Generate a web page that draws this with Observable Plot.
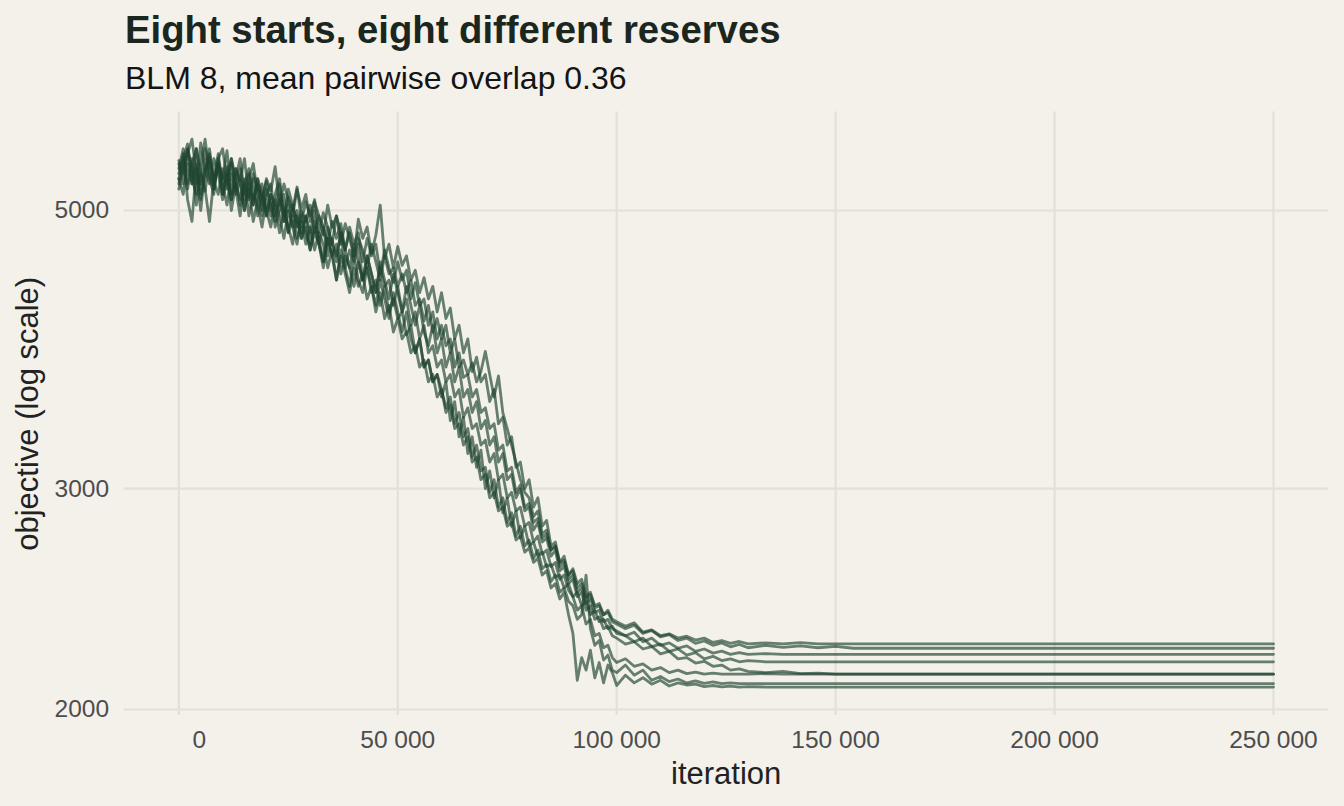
<!DOCTYPE html>
<html><head><meta charset="utf-8">
<script src="https://cdn.jsdelivr.net/npm/d3@7"></script>
<script src="https://cdn.jsdelivr.net/npm/@observablehq/plot@0.6"></script>
<style>
html,body{margin:0;padding:0;background:#f3f1ea;}
body{width:1344px;height:806px;overflow:hidden;position:relative;font-family:"Liberation Sans",Arial,Helvetica,sans-serif;}
#head{position:relative;height:100px;}
#title{position:absolute;left:125px;top:11px;font-size:38.3px;line-height:38px;font-weight:bold;color:#1b261f;white-space:nowrap;}
#subtitle{position:absolute;left:125px;top:62px;font-size:32px;line-height:32px;color:#141414;white-space:nowrap;}
#chart svg{display:block;}
</style></head>
<body>
<div id="head"><div id="title">Eight starts, eight different reserves</div><div id="subtitle">BLM 8, mean pairwise overlap 0.36</div></div>
<div id="chart"></div>
<script>
// iteration grid: every 1000 to 100000, every 2000 to 130000, every 4000 to 158000, then the last iteration
const iterations = [
  ...d3.range(0, 100001, 1000),
  ...d3.range(102000, 130001, 2000),
  ...d3.range(134000, 158001, 4000),
  250000
];

const runA = [
  5480,5350,5590,5420,5250,5660,5380,5520,5200,5450,
  5300,5580,5150,5400,5280,5500,5120,5350,5210,5050,
  5300,5180,5420,5050,5250,5100,4950,5200,5020,5150,
  4900,5080,4950,4780,5050,4850,4950,4700,4880,4750,
  4600,4920,4750,4850,4620,4780,5050,4580,4700,4500,
  4680,4520,4600,4400,4480,4300,4420,4250,4350,4150,
  4300,4100,4180,3950,4050,3850,3950,3720,3820,3650,
  3700,3520,3600,3380,3420,3250,3300,3120,3150,3000,
  3050,2900,2950,2800,2830,2700,2720,2620,2650,2560,
  2590,2520,2540,2460,2480,2420,2430,2380,2400,2360,
  2350,
  2330,2345,2305,2315,2290,2298,2280,2288,2272,2280,2262,2270,2258,2266,2256,
  2260,2256,2261,2256,2256,2256,2256,
  2256];
const runB = [
  5300,5150,5450,5250,5600,5380,5180,5480,5320,5550,
  5250,5420,5100,5300,5500,5150,5350,5050,5250,5120,
  5280,5000,5150,5300,4950,5120,5000,5220,4900,5080,
  4950,5100,4800,4980,4850,4700,4950,4800,4650,4850,
  4700,4800,4550,4750,4600,4700,4450,4650,4500,4380,
  4550,4400,4480,4250,4380,4200,4250,4050,4150,3950,
  4050,3900,3950,3750,3850,3680,3700,3550,3600,3450,
  3480,3350,3380,3220,3250,3100,3120,2980,3020,2900,
  2920,2820,2840,2740,2760,2680,2700,2620,2630,2560,
  2580,2500,2520,2450,2470,2410,2420,2380,2390,2350,
  2340,
  2320,2335,2300,2312,2285,2295,2270,2280,2258,2268,2250,2260,2244,2254,2240,
  2250,2242,2248,2240,2246,2238,2238,
  2238];
const runC = [
  5200,5400,5600,5250,5450,5100,5350,5550,5280,5150,
  5400,5200,5500,5300,5050,5250,5400,5100,5300,5000,
  5150,5250,4950,5100,4900,5200,5050,4850,5000,4900,
  5050,4800,4950,4850,4700,4900,4750,4880,4650,4800,
  4600,4750,4650,4500,4700,4550,4400,4600,4450,4500,
  4350,4450,4300,4400,4200,4250,4080,4200,4000,4100,
  3950,4050,3850,3950,3750,3800,3700,3780,3650,3720,
  3860,3700,3550,3690,3450,3350,3250,3150,3050,2980,
  2950,2850,2880,2760,2780,2680,2700,2600,2620,2540,
  2560,2480,2500,2430,2450,2390,2400,2350,2360,2320,
  2310,
  2290,2305,2265,2280,2250,2260,2238,2248,2225,2235,2218,2226,2213,2220,2213,
  2216,2213,2213,2213,2213,2213,2213,
  2213];
const runD = [
  5400,5600,5250,5500,5050,5350,5200,4900,5300,5450,
  5150,5350,5000,5250,5100,5300,4950,5150,5050,4850,
  5100,4950,5050,4800,5000,4850,4700,4950,4750,4850,
  4650,4800,4700,4550,4750,4600,4700,4450,4600,4500,
  4350,4550,4400,4500,4300,4400,4200,4350,4150,4250,
  4100,4150,3980,4050,3850,3950,3750,3800,3650,3700,
  3550,3650,3400,3520,3300,3420,3200,3300,3120,3220,
  3000,3100,2950,3050,2870,2950,2800,2880,2740,2800,
  2700,2720,2650,2670,2600,2610,2550,2560,2500,2520,
  2460,2480,2420,2440,2380,2400,2350,2360,2320,2330,
  2300,
  2290,2265,2280,2245,2255,2225,2235,2210,2220,2195,2205,2188,2195,2183,2188,
  2183,2183,2183,2183,2183,2183,2183,
  2183];
const runE = [
  5250,5500,5650,5300,5150,5450,5700,5350,5200,5500,
  5600,5300,5100,5400,5250,5000,5300,5450,5150,4950,
  5200,5050,4900,5150,5000,4800,5050,4900,4750,4950,
  4800,5000,4700,4850,4600,4750,4550,4800,4650,4500,
  4700,4550,4400,4600,4450,4300,4550,4400,4250,4450,
  4300,4150,4350,4200,4050,4200,4000,3900,4050,3850,
  3950,3750,3850,3650,3750,3550,3600,3450,3520,3350,
  3400,3250,3300,3150,3200,3050,3080,2950,3000,2880,
  2900,2780,2820,2720,2740,2650,2680,2580,2600,2520,
  2540,2460,2480,2400,2420,2360,2370,2320,2330,2290,
  2280,
  2255,2265,2235,2245,2215,2225,2195,2200,2178,2185,2165,2170,2150,2155,2145,
  2140,2145,2136,2138,2134,2134,2134,
  2134];
const runF = [
  5450,5250,5550,5700,5350,5000,5400,5600,5250,5450,
  5150,5350,5500,5200,5400,5100,5250,5050,5300,5150,
  4950,5150,5050,5250,4900,5050,4850,5000,4800,4950,
  4700,4900,4750,4550,4850,4700,4600,4800,4500,4650,
  4550,4700,4400,4600,4450,4300,4500,4350,4400,4200,
  4350,4150,4250,4050,4150,3950,4050,3850,3900,3750,
  3800,3650,3700,3550,3600,3420,3480,3350,3380,3250,
  3280,3150,3200,3050,3080,2950,2980,2880,2900,2800,
  2820,2720,2750,2660,2680,2600,2620,2540,2560,2490,
  2460,2400,2420,2340,2360,2290,2300,2240,2250,2200,
  2180,
  2195,2165,2175,2150,2160,2140,2150,2136,2142,2134,2138,2134,2134,2134,2134,
  2136,2134,2134,2134,2134,2134,2134,
  2134];
const runG = [
  5350,5550,5100,4900,5400,5250,5600,5300,5150,5500,
  5250,5050,5350,5200,4950,5250,5100,5300,4950,5150,
  5000,4850,5100,4950,4750,5000,4850,4700,4950,4800,
  4650,4850,4700,4500,4750,4600,4400,4650,4500,4350,
  4600,4400,4300,4500,4350,4200,4400,4250,4100,4300,
  4150,4000,4150,3950,3850,3950,3750,3800,3650,3700,
  3600,3480,3550,3380,3450,3300,3350,3180,3250,3100,
  3120,2980,3050,2900,2950,2820,2870,2750,2800,2700,
  2730,2640,2680,2590,2610,2530,2560,2480,2500,2440,
  2420,2360,2380,2560,2320,2250,2270,2190,2210,2150,
  2140,
  2170,2130,2150,2110,2125,2105,2115,2100,2108,2098,2104,2097,2100,2097,2097,
  2097,2097,2097,2097,2097,2097,2097,
  2097];
const runH = [
  5300,5500,5200,5450,5600,5150,5400,5250,5500,5350,
  5100,5300,5450,5150,5300,5000,5200,4900,5100,5250,
  4950,5150,4850,5000,5150,4800,4950,4750,4900,4700,
  4850,4650,4800,4700,4500,4650,4400,4600,4450,4300,
  4500,4350,4450,4250,4350,4150,4300,4100,4200,4000,
  4100,3950,4000,3850,3900,3750,3800,3650,3700,3550,
  3600,3450,3500,3350,3380,3250,3300,3150,3180,3050,
  3080,2950,2980,2880,2900,2800,2820,2730,2750,2670,
  2690,2620,2640,2560,2580,2500,2520,2450,2480,2380,
  2300,2110,2200,2150,2230,2120,2180,2100,2170,2140,
  2090,
  2130,2100,2120,2095,2110,2088,2100,2092,2095,2086,2090,2085,2088,2084,2086,
  2084,2084,2084,2084,2084,2084,2084,
  2084];

const runNames = ["A","B","C","D","E","F","G","H"];
const runs = [runA, runB, runC, runD, runE, runF, runG, runH];

const xTicks = [0, 50000, 100000, 150000, 200000, 250000];
const yTicks = [2000, 3000, 5000];

const data = [];
runs.forEach((vals, r) => vals.forEach((v, i) => {
  if (i < iterations.length) data.push({run: runNames[r], iteration: iterations[i], objective: v});
}));

const fmtX = d => d === 0 ? "\u00a0\u00a0\u00a0\u00a0\u00a0\u00a00" : d3.format(",")(d).replace(/,/g, " ");

const chart = Plot.plot({
  width: 1344, height: 706,
  marginLeft: 123.6, marginRight: 16.3, marginTop: 11.6, marginBottom: 91,
  style: {background: "#f3f1ea", fontFamily: "'Liberation Sans', Arial, sans-serif", fontSize: "24.5px", color: "#4d4d4d", overflow: "visible"},
  x: {domain: [-12500, 262500]},
  y: {type: "log", domain: [1978, 5990]},
  marks: [
    Plot.gridX(xTicks, {stroke: "#e2e1d7", strokeOpacity: 1, strokeWidth: 2.2}),
    Plot.gridY(yTicks, {stroke: "#e2e1d7", strokeOpacity: 1, strokeWidth: 2.2}),
    Plot.axisX(xTicks, {tickSize: 0, tickPadding: 15, tickFormat: fmtX, label: null, fill: "#4d4d4d"}),
    Plot.axisY(yTicks, {tickSize: 0, tickPadding: 15, tickFormat: d => String(d), label: null, fill: "#4d4d4d"}),
    Plot.line(data, {x: "iteration", y: "objective", z: "run", stroke: "#1f4530", strokeOpacity: 0.67, strokeWidth: 2.8, strokeLinejoin: "round", strokeLinecap: "round"}),
    Plot.text(["iteration"], {frameAnchor: "bottom", dy: 68, lineAnchor: "bottom", textAnchor: "middle", fontSize: 31, fill: "#222"}),
    Plot.text(["objective (log scale)"], {frameAnchor: "left", dx: -86.6, rotate: -90, lineAnchor: "bottom", textAnchor: "middle", fontSize: 31, fill: "#222"})
  ]
});
document.getElementById("chart").appendChild(chart);
</script>
</body></html>
